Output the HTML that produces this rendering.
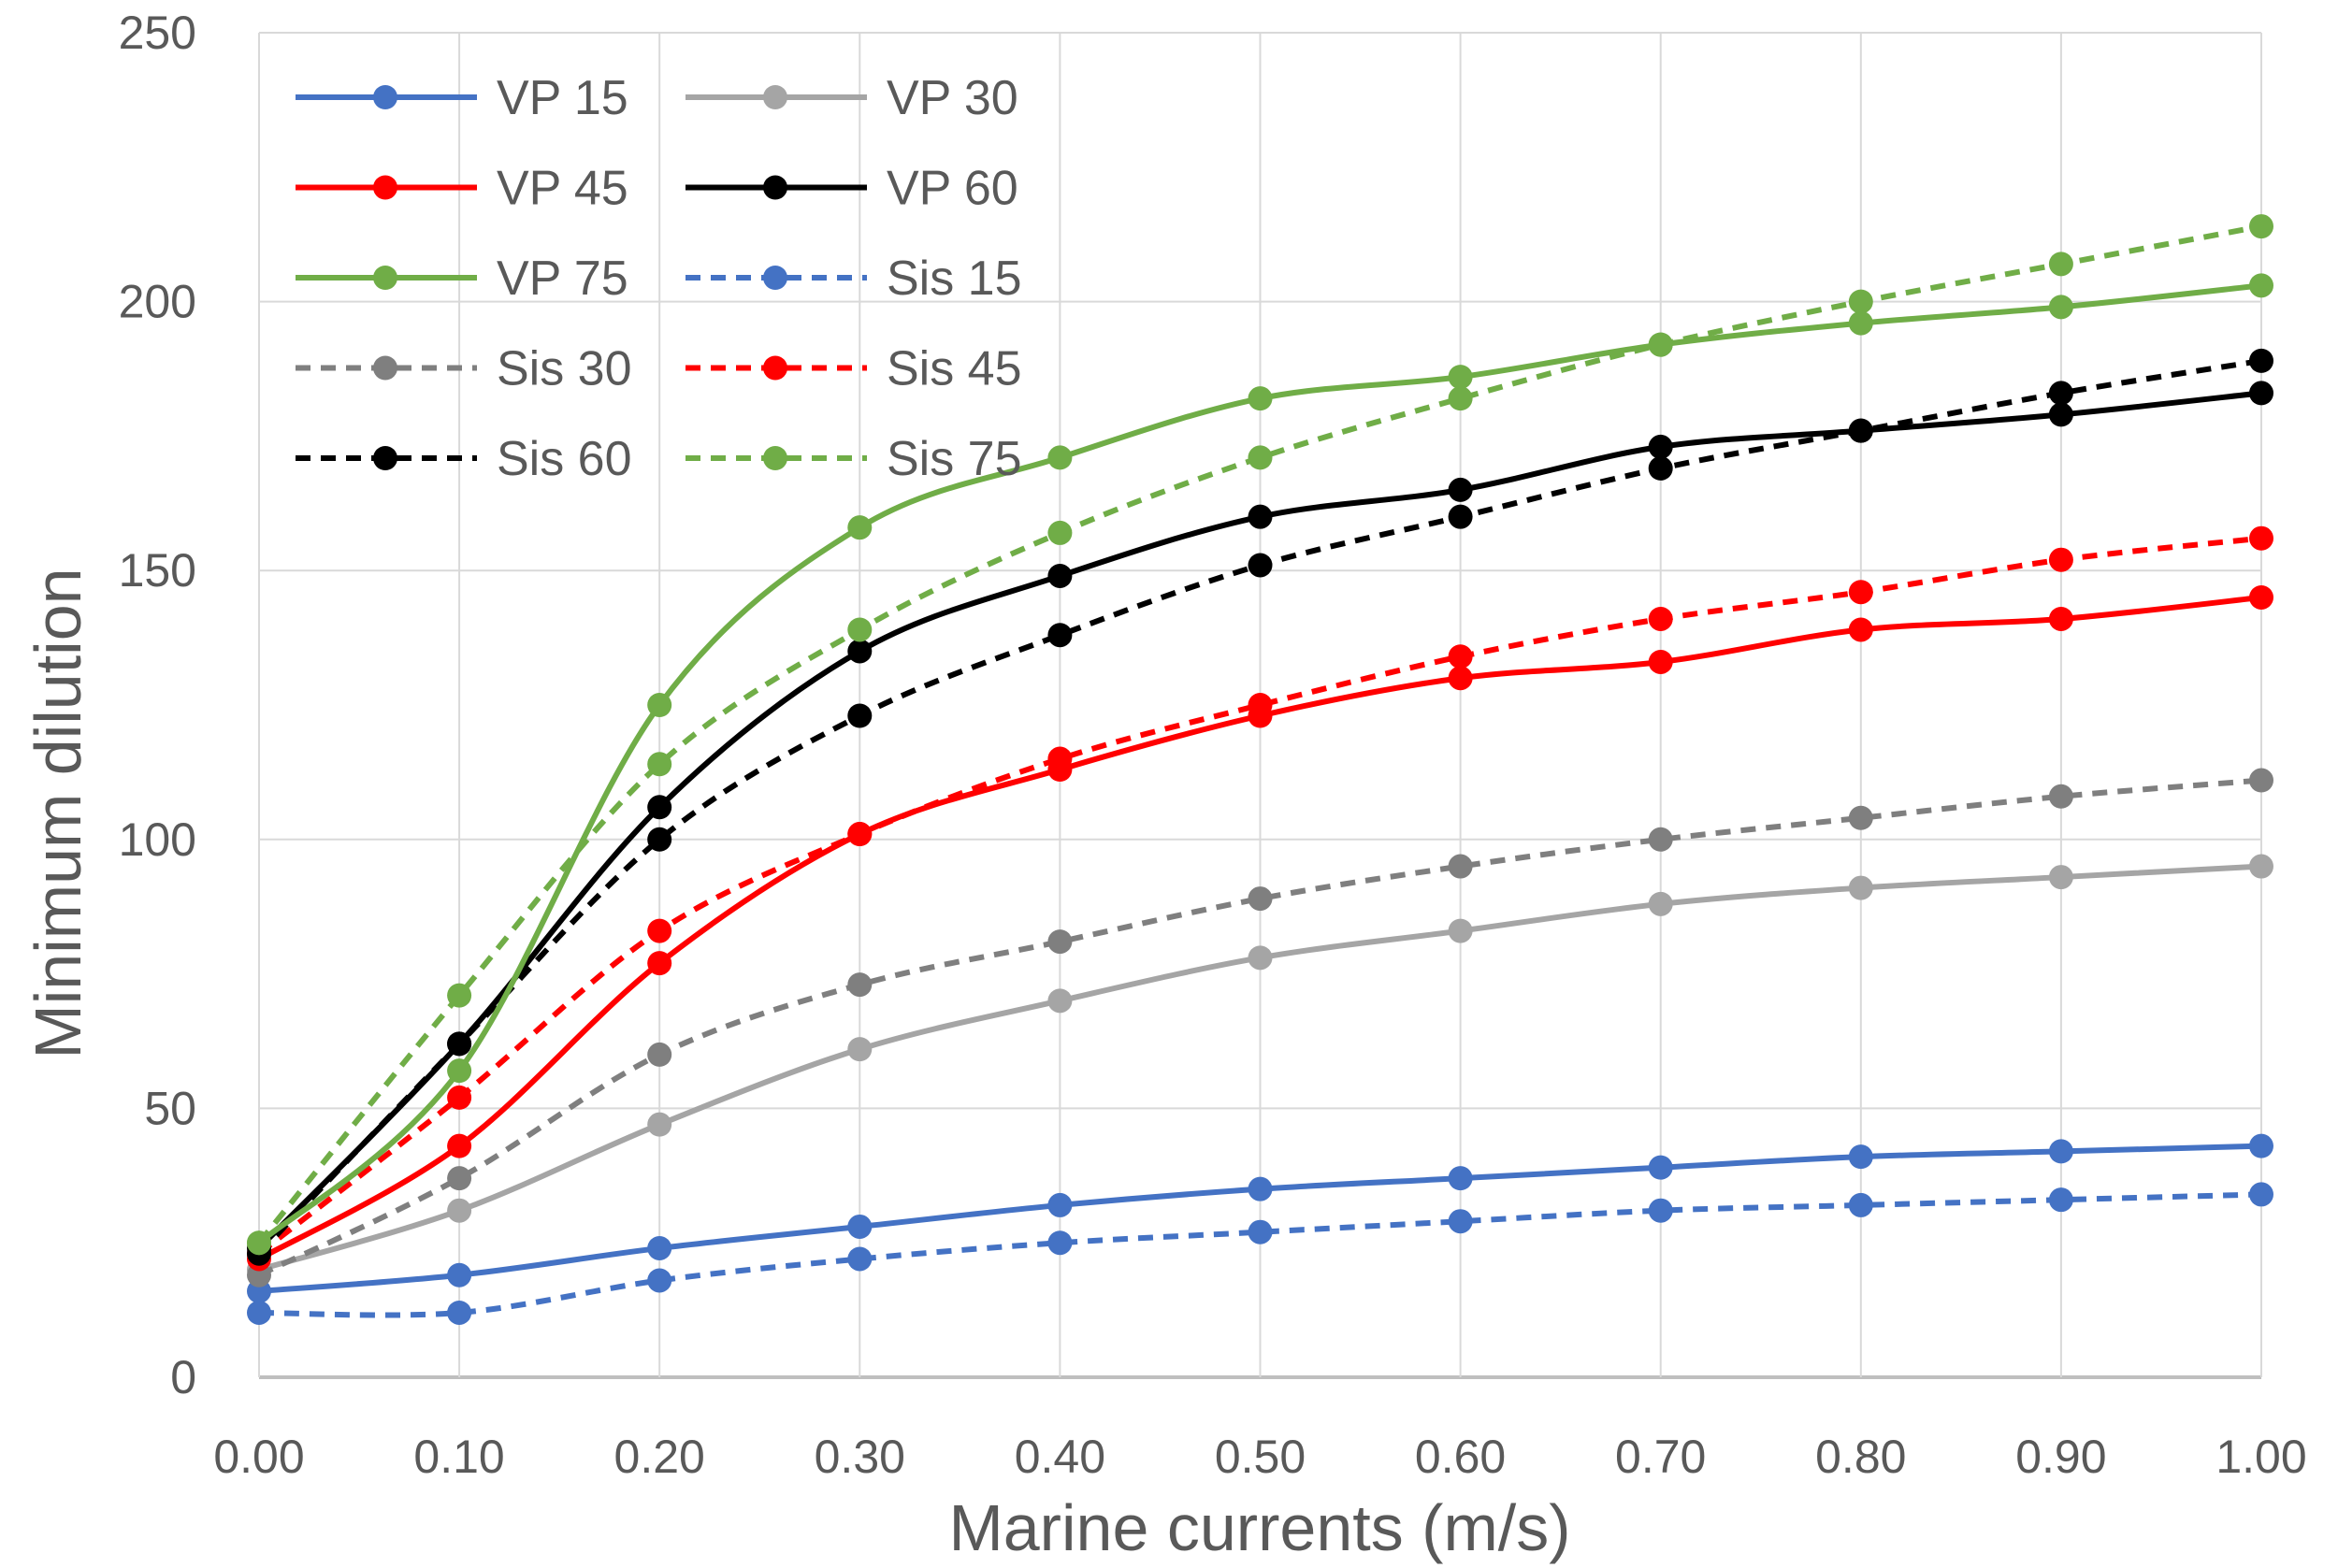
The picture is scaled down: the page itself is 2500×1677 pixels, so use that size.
<!DOCTYPE html>
<html><head><meta charset="utf-8"><style>
html,body{margin:0;padding:0;background:#fff;}
svg{display:block;font-family:"Liberation Sans",sans-serif;}
</style></head><body>
<svg id="chart" width="2500" height="1677" viewBox="0 0 2500 1677" xmlns="http://www.w3.org/2000/svg">
<g id="grid"></g>
<g id="series"></g>
<g id="legend"></g>
<text x="1347" y="1658" font-size="70" fill="#595959" text-anchor="middle">Marine currents (m/s)</text>
<text transform="translate(86,870) rotate(-90)" font-size="70" fill="#595959" text-anchor="middle">Minimum dilution</text>
</svg>
<script>
const xCats = [0,0.1,0.2,0.3,0.4,0.5,0.6,0.7,0.8,0.9,1.0];
const xTickLabels = ["0.00","0.10","0.20","0.30","0.40","0.50","0.60","0.70","0.80","0.90","1.00"];
const yTicks = [0,50,100,150,200,250];
const seriesNames = ["VP 15","VP 30","VP 45","VP 60","VP 75","Sis 15","Sis 30","Sis 45","Sis 60","Sis 75"];
const vp15 = [16,19,24,28,32,35,37,39,41,42,43];
const vp30 = [20,31,47,61,70,78,83,88,91,93,95];
const vp45 = [22,43,77,101,113,123,130,133,139,141,145];
const vp60 = [24,62,106,135,149,160,165,173,176,179,183];
const vp75 = [25,57,125,158,171,182,186,192,196,199,203];
const sis15 = [12,12,18,22,25,27,29,31,32,33,34];
const sis30 = [19,37,60,73,81,89,95,100,104,108,111];
const sis45 = [23,52,83,101,115,125,134,141,146,152,156];
const sis60 = [23,62,100,123,138,151,160,169,176,183,189];
const sis75 = [25,71,114,139,157,171,182,192,200,207,214];

const NS="http://www.w3.org/2000/svg";
const X0=277,X1=2418,Y0=1473,Y1=35;
const xs=v=>X0+(v-0)/(1-0)*(X1-X0);
const ys=v=>Y0-(v/250)*(Y0-Y1);
function mk(tag,attrs,parent){const e=document.createElementNS(NS,tag);for(const k in attrs)e.setAttribute(k,attrs[k]);parent.appendChild(e);return e;}
const grid=document.getElementById('grid');
yTicks.forEach(t=>{
  const l=mk('line',{x1:X0,x2:X1,y1:ys(t),y2:ys(t),stroke:t===0?'#bfbfbf':'#d9d9d9','stroke-width':t===0?4:2},grid);
  
  
  const tx=mk('text',{x:210,y:ys(t)+17,'font-size':50,fill:'#595959','text-anchor':'end'},grid);
  tx.textContent=t;
  
  
});
xCats.forEach((c,i)=>{
  const l=mk('line',{x1:xs(c),x2:xs(c),y1:Y1,y2:Y0,stroke:'#d9d9d9','stroke-width':2},grid);
  
  
  const tx=mk('text',{x:xs(c),y:1575,'font-size':50,fill:'#595959','text-anchor':'middle'},grid);
  tx.textContent=xTickLabels[i];
  
  
});
function smooth(pts){
  let d=`M${pts[0][0]},${pts[0][1]}`;
  for(let i=0;i<pts.length-1;i++){
    const p0=pts[i-1]||pts[i],p1=pts[i],p2=pts[i+1],p3=pts[i+2]||p2;
    const t=0.5/3;
    const c1=[p1[0]+(p2[0]-p0[0])*t,p1[1]+(p2[1]-p0[1])*t];
    const c2=[p2[0]-(p3[0]-p1[0])*t,p2[1]-(p3[1]-p1[1])*t];
    d+=` C${c1[0]},${c1[1]} ${c2[0]},${c2[1]} ${p2[0]},${p2[1]}`;
  }
  return d;
}
const defs=[
 {n:seriesNames[5],v:sis15,c:'#4472c4',dash:true},
 {n:seriesNames[0],v:vp15,c:'#4472c4',dash:false},
 {n:seriesNames[1],v:vp30,c:'#a5a5a5',dash:false},
 {n:seriesNames[6],v:sis30,c:'#7f7f7f',dash:true},
 {n:seriesNames[7],v:sis45,c:'#ff0000',dash:true},
 {n:seriesNames[2],v:vp45,c:'#ff0000',dash:false},
 {n:seriesNames[8],v:sis60,c:'#000000',dash:true},
 {n:seriesNames[3],v:vp60,c:'#000000',dash:false},
 {n:seriesNames[9],v:sis75,c:'#70ad47',dash:true},
 {n:seriesNames[4],v:vp75,c:'#70ad47',dash:false}
];
const sg=document.getElementById('series');
defs.forEach(s=>{
  const g=mk('g',{},sg);
  
  
  const pts=s.v.map((v,i)=>[xs(xCats[i]),ys(v)]);
  const p=mk('path',{d:smooth(pts),fill:'none',stroke:s.c,'stroke-width':6,'stroke-dasharray':s.dash?'16 11':'none'},g);
  
  
  pts.forEach(q=>{
    const m=mk('circle',{cx:q[0],cy:q[1],r:13,fill:s.c},g);
    
    
  });
});
const lg=document.getElementById('legend');
const legendColors=['#4472c4','#a5a5a5','#ff0000','#000000','#70ad47','#4472c4','#7f7f7f','#ff0000','#000000','#70ad47'];
const legendDash=[false,false,false,false,false,true,true,true,true,true];
const legendLabels=["VP 15","VP 30","VP 45","VP 60","VP 75","Sis 15","Sis 30","Sis 45","Sis 60","Sis 75"];
legendLabels.forEach((lab,i)=>{
  const col=i%2,row=Math.floor(i/2);
  const y=104+row*96.5;
  const lx=col===0?316:733;
  const g=mk('g',{},lg);
  
  
  mk('line',{x1:lx,x2:lx+194,y1:y,y2:y,stroke:legendColors[i],'stroke-width':6,'stroke-dasharray':legendDash[i]?'16 11':'none'},g);
  mk('circle',{cx:lx+96,cy:y,r:13,fill:legendColors[i]},g);
  const t=mk('text',{x:lx+215,y:y+18,'font-size':52,fill:'#595959'},g);
  t.textContent=lab;
});
</script>
</body></html>
